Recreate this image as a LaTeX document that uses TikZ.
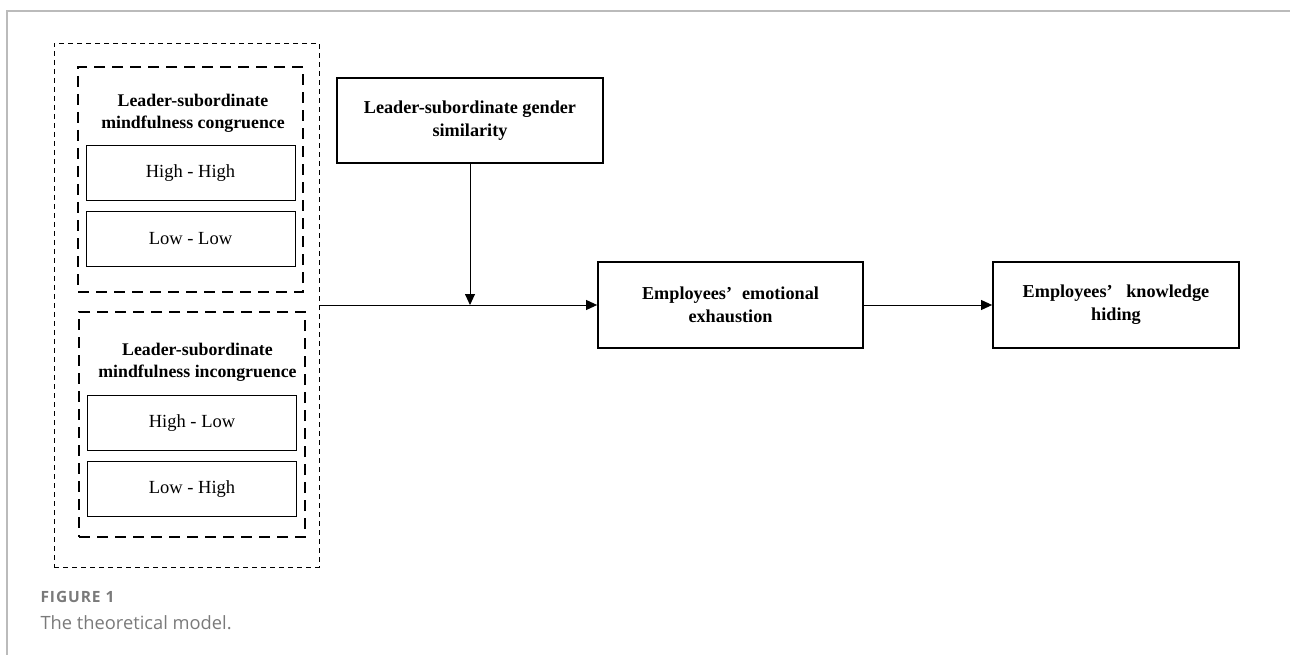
\documentclass[tikz,border=0pt]{standalone}
\usepackage{fontspec}
\setmainfont{Liberation Serif}
\newfontfamily\capfont{Open Sans}
\usetikzlibrary{arrows.meta}

\definecolor{framegray}{HTML}{BBBBBB}
\definecolor{capgray}{HTML}{7A7A7A}

\tikzset{
  mainbox/.style={draw, line width=1.8pt, align=center, inner sep=0pt,
    font=\bfseries\fontsize{18.2}{23}\selectfont},
  subbox/.style={draw, line width=1pt, inner sep=0pt,
    minimum width=209pt, minimum height=55pt, font=\fontsize{18.5}{20}\selectfont},
  grouptitle/.style={align=center, font=\bfseries\fontsize{17.8}{22}\selectfont},
  groupbox/.style={draw, line width=1.9pt, dash pattern=on 11pt off 7pt, inner sep=0pt},
  outerbox/.style={draw, line width=0.8pt, dash pattern=on 5pt off 4pt, inner sep=0pt},
  link/.style={line width=0.9pt, -{Triangle[length=11pt,width=10pt]}}
}

\begin{document}
\begin{tikzpicture}[x=1pt,y=-1pt]
  \useasboundingbox (0,0) rectangle (1290,655);
  % page frame
  \draw[framegray, line width=1.2pt] (1290,11) -- (7,11) -- (7,655);

  % mindfulness groups
  \node[outerbox, minimum width=265pt, minimum height=524pt] (outer) at (186.5,305) {};
  \node[groupbox, minimum width=225pt, minimum height=225pt] (cong) at (190.5,179.5) {};
  \node[groupbox, minimum width=226pt, minimum height=225pt] (incong) at (192,424.5) {};

  \node[grouptitle] (congtitle) at (193,113) {Leader-subordinate\\mindfulness congruence};
  \node[subbox] (hh) at (190.5,173.5) {High - High};
  \node[subbox] (ll) at (190.5,239) {Low - Low};

  \node[grouptitle] (incongtitle) at (197.5,362) {Leader-subordinate\\mindfulness incongruence};
  \node[subbox] (hl) at (192,423) {High - Low};
  \node[subbox] (lh) at (192,489) {Low - High};

  % model boxes
  \node[mainbox, minimum width=266pt, minimum height=85pt] (gender) at (470,120.5)
    {Leader-subordinate gender\\similarity};
  \node[mainbox, minimum width=265pt, minimum height=86pt] (exhaust) at (730.5,305)
    {Employees'\hspace{0.55em}emotional\\exhaustion};
  \node[mainbox, minimum width=246pt, minimum height=86pt] (hiding) at (1116,305)
    {Employees'\hspace{0.75em}knowledge\\hiding};

  % connectors
  \coordinate (join) at (gender.south |- outer.east);
  \draw[link] (outer.east) -- (exhaust.west);
  \draw[link] (gender.south) -- (join);
  \draw[link] (exhaust.east) -- (hiding.west);

  % caption
  \node[anchor=west, text=capgray, font=\capfont\bfseries\fontsize{15.5}{17}\selectfont\addfontfeature{LetterSpace=6}]
    (figlabel) at (37,597) {FIGURE 1};
  \node[anchor=west, text=capgray, font=\capfont\fontsize{18.3}{20}\selectfont]
    (figcaption) at (37,623) {The theoretical model.};
\end{tikzpicture}
\end{document}
